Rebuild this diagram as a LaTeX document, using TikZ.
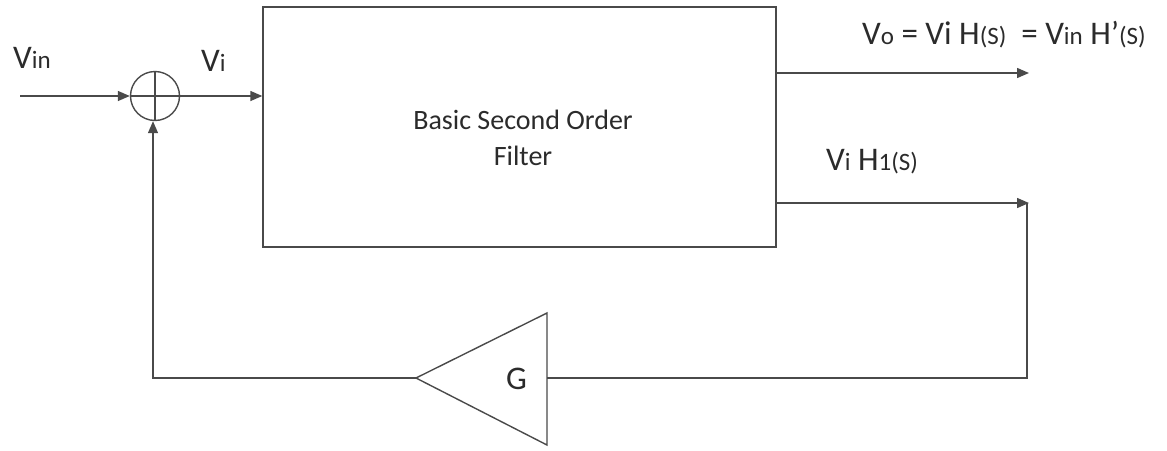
\documentclass[tikz,border=0pt]{standalone}
\usepackage{fontspec}
\setmainfont{Carlito}
\usetikzlibrary{arrows.meta}
\definecolor{wire}{HTML}{4A4A4A}
\definecolor{ink}{HTML}{2B2B2B}
\newcommand\sml[1]{{\fontsize{25}{25}\selectfont #1}}
\tikzset{
  wireline/.style={draw=wire, line width=1.4pt},
  sig/.style={wireline, -{Triangle[length=12pt,width=10pt]}},
  txt/.style={text=ink, inner sep=0pt, anchor=base west, font=\fontsize{33}{33}\selectfont},
}
\begin{document}
\begin{tikzpicture}[x=1pt,y=-1pt]
  \useasboundingbox (0,0) rectangle (1167,450);
  % filter block
  \node[wireline, fill=white, rectangle, minimum width=513pt, minimum height=240pt, inner sep=0pt]
    (filter) at (519.5,127) {};
  \node[text=ink, align=center, font=\fontsize{28}{36}\selectfont] (ftext) at (523,138)
    {Basic Second Order\\Filter};
  % summing junction
  \node[wireline, circle, minimum size=49pt, inner sep=0pt] (sum) at (155,96) {};
  \draw[wire, line width=1.3pt] (sum.north) -- (sum.south) (sum.west) -- (sum.east);
  % gain stage
  \coordinate (gin) at (547,378);
  \coordinate (gout) at (416,378);
  \draw[wireline, line join=miter] (547,313) -- (gout) -- (547,445) -- cycle;
  \node[txt] (glbl) at (506,389) {G};
  % signal ends and corners
  \coordinate (src) at (20,96);
  \coordinate (out1) at (1029,73);
  \coordinate (out2) at (1029,203);
  \coordinate (fbr) at (1027,378);
  \coordinate (fbl) at (153,378);
  % connectors
  \draw[sig] (src) -- (sum.west);
  \draw[sig] (sum.east) -- (sum.east -| filter.west);
  \draw[sig] (filter.east |- out1) -- (out1);
  \draw[sig] (filter.east |- out2) -- (out2);
  \draw[wireline] (fbr |- out2) -- (fbr) -- (gin);
  \draw[sig] (gout) -- (fbl) -- (sum.south -| fbl);
  % labels
  \node[txt] (vin) at (13,68) {V\sml{in}};
  \node[txt] (vi) at (201,71) {V\sml{i}};
  \node[txt] (vo) at (862,44) {V\sml{o} = Vi H\sml{(S)}\ \ = V\sml{in} H’\sml{(S)}};
  \node[txt] (vh1) at (826,170) {V\sml{i} H\sml{1(S)}};
\end{tikzpicture}
\end{document}
